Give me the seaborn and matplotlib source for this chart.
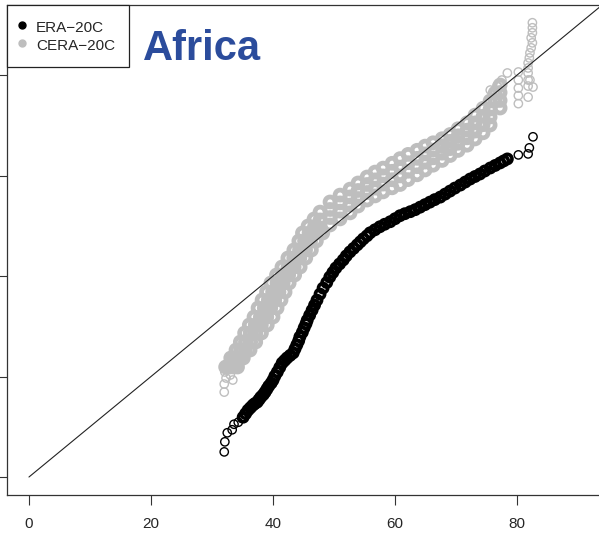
import matplotlib
matplotlib.use("Agg")
import matplotlib.pyplot as plt
from matplotlib.lines import Line2D
import seaborn as sns

sns.set_style("ticks")
plt.rcParams['font.family'] = ['Liberation Sans', 'DejaVu Sans']

# ERA-20C quantile pairs: sparse tails + dense body
era_lo_x = [32.0, 32.1, 32.5, 33.3, 33.6, 34.3, 34.9]
era_lo_y = [5.0, 7.0, 8.8, 9.4, 10.5, 10.9, 11.7]
era_hi_x = [80.2, 81.8, 82.0, 82.6]
era_hi_y = [64.1, 64.3, 65.5, 67.7]
era_x = [35.1, 35.5, 35.9, 36.3, 36.7, 37.0, 37.4, 37.7, 38.0, 38.4, 38.7, 39.0, 39.3, 39.7,
         40.0, 40.3, 40.7, 41.1, 41.5, 41.9, 42.3, 42.8, 43.3, 43.6, 43.9, 44.2, 44.4, 44.8,
         45.1, 45.4, 45.6, 46.0, 46.4, 46.8, 47.2, 47.7, 48.2, 48.8, 49.3, 49.8, 50.3, 50.9,
         51.5, 52.0, 52.6, 53.2, 53.8, 54.3, 54.8, 55.4, 55.9, 56.7, 57.5, 58.3, 59.2, 60.0,
         60.8, 61.6, 62.5, 63.3, 64.1, 64.9, 65.7, 66.5, 67.4, 68.2, 69.0, 69.8, 70.7, 71.5,
         72.3, 73.1, 73.9, 74.7, 75.6, 76.4, 77.2, 77.8, 78.4]
era_y = [11.9, 12.6, 13.3, 13.8, 14.3, 14.6, 14.9, 15.4, 15.9, 16.4, 16.9, 17.5, 18.1, 18.7,
         19.3, 20.1, 20.9, 21.8, 22.7, 23.2, 23.7, 24.2, 24.7, 25.5, 26.3, 27.1, 27.9, 28.8,
         29.7, 30.5, 31.2, 32.2, 33.2, 34.2, 35.2, 36.4, 37.6, 38.7, 39.8, 40.7, 41.6, 42.4,
         43.2, 44.0, 44.8, 45.5, 46.2, 46.8, 47.4, 48.0, 48.6, 49.2, 49.8, 50.3, 50.8, 51.4,
         52.0, 52.4, 52.8, 53.2, 53.7, 54.2, 54.7, 55.2, 55.7, 56.3, 56.9, 57.5, 58.1, 58.7,
         59.3, 59.8, 60.3, 60.9, 61.5, 62.0, 62.5, 62.9, 63.3]

# CERA-20C: sparse tails and four members forming the band
cera_tail_x = [32.0, 32.0, 32.3, 33.0, 33.4, 32.1, 32.8, 33.6, 34.1,
               82.5, 82.5, 82.5, 82.3, 82.5, 82.3, 82.1, 82.0, 81.8, 81.8, 81.8, 81.8, 81.8,
               82.6, 81.8, 82.1, 80.2, 80.2, 80.2, 80.2, 80.2, 78.4, 77.5, 76.7, 75.6]
cera_tail_y = [16.9, 18.5, 19.7, 20.3, 19.3, 20.9, 21.7, 22.1, 22.9,
               90.4, 89.4, 88.4, 87.4, 86.4, 85.4, 84.4, 83.4, 82.4, 81.4, 80.4, 79.0, 77.8,
               77.6, 75.6, 79.0, 80.6, 79.0, 77.4, 75.9, 74.3, 80.4, 79.0, 77.9, 77.0]

cera_a_x = [32.23, 33.07, 33.93, 34.64, 35.34, 36.11, 36.88, 37.54, 38.20, 38.93, 39.65, 40.56,
            41.46, 42.43, 43.41, 44.23, 44.82, 45.74, 46.72, 47.70, 49.34, 50.98, 52.62, 53.93,
            55.41, 56.72, 58.03, 59.51, 60.82, 62.13, 63.61, 64.92, 66.23, 67.70, 69.02, 70.33,
            71.80, 73.11, 74.42, 75.57, 76.39, 77.21]
cera_a_y = [21.89, 23.68, 25.27, 26.87, 28.66, 30.25, 31.84, 33.63, 35.22, 36.82, 38.61, 40.20,
            41.79, 43.58, 45.17, 46.97, 48.56, 49.95, 51.34, 52.72, 54.73, 56.10, 57.29, 58.51,
            59.70, 60.68, 61.47, 62.43, 63.36, 64.20, 65.02, 65.85, 66.51, 67.32, 68.16, 69.31,
            70.49, 72.02, 73.37, 74.83, 76.42, 78.01]

cera_b_x = [32.87, 33.74, 34.69, 35.47, 36.25, 37.08, 37.92, 38.57, 39.23, 39.93, 40.64, 41.54,
            42.44, 43.39, 44.34, 45.16, 45.90, 46.80, 47.70, 49.34, 50.98, 52.62, 53.93, 55.41,
            56.72, 58.03, 59.51, 60.82, 62.13, 63.61, 64.92, 66.23, 67.70, 69.02, 70.33, 71.80,
            73.11, 74.42, 75.57, 76.39, 77.21]
cera_b_y = [21.89, 23.68, 25.27, 26.87, 28.66, 30.25, 31.84, 33.63, 35.22, 36.82, 38.61, 40.20,
            41.79, 43.58, 45.17, 46.97, 48.56, 49.85, 51.16, 53.24, 54.55, 55.74, 57.02, 58.21,
            59.13, 59.92, 60.84, 61.67, 62.55, 63.42, 64.30, 65.04, 65.91, 66.79, 67.90, 69.02,
            70.47, 71.78, 73.24, 74.83, 76.52]

cera_c_x = [33.52, 34.46, 35.47, 36.33, 37.20, 38.08, 38.97, 39.62, 40.28, 40.97, 41.66, 42.56,
            43.46, 44.39, 45.33, 46.15, 47.05, 47.70, 49.34, 50.98, 52.62, 53.93, 55.41, 56.72,
            58.03, 59.51, 60.82, 62.13, 63.61, 64.92, 66.23, 67.70, 69.02, 70.33, 71.80, 73.11,
            74.42, 75.57, 77.21]
cera_c_y = [21.89, 23.68, 25.27, 26.87, 28.66, 30.25, 31.84, 33.63, 35.22, 36.82, 38.61, 40.20,
            41.79, 43.58, 45.17, 46.97, 48.56, 49.53, 51.64, 52.91, 54.11, 55.42, 56.62, 57.49,
            58.29, 59.16, 59.92, 60.84, 61.75, 62.67, 63.52, 64.44, 65.35, 66.42, 67.50, 68.84,
            70.11, 71.65, 74.93]

cera_d_x = [34.18, 35.13, 36.23, 37.16, 38.10, 39.05, 40.00, 40.66, 41.31, 41.97, 42.64, 43.54,
            44.44, 45.36, 46.28, 47.10, 48.15, 49.34, 50.98, 52.62, 53.93, 55.41, 56.72, 58.03,
            59.51, 60.82, 62.13, 63.61, 64.92, 66.23, 67.70, 69.02, 70.33, 71.80, 73.11, 74.42,
            75.57, 77.21]
cera_d_y = [21.89, 23.68, 25.27, 26.87, 28.66, 30.25, 31.84, 33.63, 35.22, 36.82, 38.61, 40.20,
            41.79, 43.58, 45.17, 46.97, 48.56, 50.15, 51.36, 52.56, 53.93, 55.12, 55.94, 56.74,
            57.55, 58.21, 59.18, 60.14, 61.11, 62.05, 63.00, 63.98, 64.99, 66.03, 67.28, 68.50,
            70.05, 73.43]

x_ticks = [0, 20, 40, 60, 80]
y_ticks = [0, 20, 40, 60, 80]
labels = ["ERA\u221220C", "CERA\u221220C"]
gray = "#bebebe"

fig = plt.figure(figsize=(5.99, 5.34), dpi=100)
ax = fig.add_axes([7/599, 39/534, 598/599, 490/534])

# 1:1 line from the origin
ax.plot([0, 100], [0, 100], color="#222222", lw=0.8, zorder=4)

thin = dict(marker="o", s=36, facecolor="none", linewidth=1.0, legend=False, ax=ax)
thick = dict(marker="o", s=44, facecolor="none", linewidth=2.6, legend=False, ax=ax)
band = dict(marker="o", s=52, facecolor="none", linewidth=3.4, legend=False, ax=ax)
for gx, gy in [(cera_a_x, cera_a_y), (cera_b_x, cera_b_y), (cera_c_x, cera_c_y),
               (cera_d_x, cera_d_y)]:
    sns.scatterplot(x=gx, y=gy, edgecolor=gray, zorder=2, **band)
sns.scatterplot(x=cera_tail_x, y=cera_tail_y, edgecolor=gray, zorder=2, **thin)
sns.scatterplot(x=era_x, y=era_y, edgecolor="black", zorder=3, **thick)
sns.scatterplot(x=era_lo_x + era_hi_x, y=era_lo_y + era_hi_y, edgecolor="black", zorder=3, **thin)

ax.set_xlim(-3.6, 94.4)
ax.set_ylim(-3.58, 93.93)
ax.set_xticks(x_ticks)
ax.set_yticks(y_ticks)
ax.set_yticklabels([])
ax.tick_params(axis="both", direction="out", length=7.2, width=0.8, color="#333333",
               labelsize=11, pad=9)
for side in ["left", "bottom", "top"]:
    ax.spines[side].set_color("#333333")
    ax.spines[side].set_linewidth(0.9)
ax.spines["right"].set_visible(False)

handles = [Line2D([], [], ls="none", marker="o", markersize=5, color="black"),
           Line2D([], [], ls="none", marker="o", markersize=5, color=gray)]
leg = ax.legend(handles, labels, loc="upper left", bbox_to_anchor=(0, 1), borderaxespad=0,
                fontsize=11, frameon=True, fancybox=False, framealpha=1, edgecolor="#222222",
                handlelength=0.15, handleheight=1.3, handletextpad=0.85, labelspacing=0.05,
                borderpad=0.9)
leg.get_frame().set_linewidth(0.9)

fig.text(143/599, 1 - 60/534, "Africa", color="#2b4c9c", fontsize=30, fontweight="bold",
         va="baseline", ha="left")

fig.savefig("out.png", dpi=100)
